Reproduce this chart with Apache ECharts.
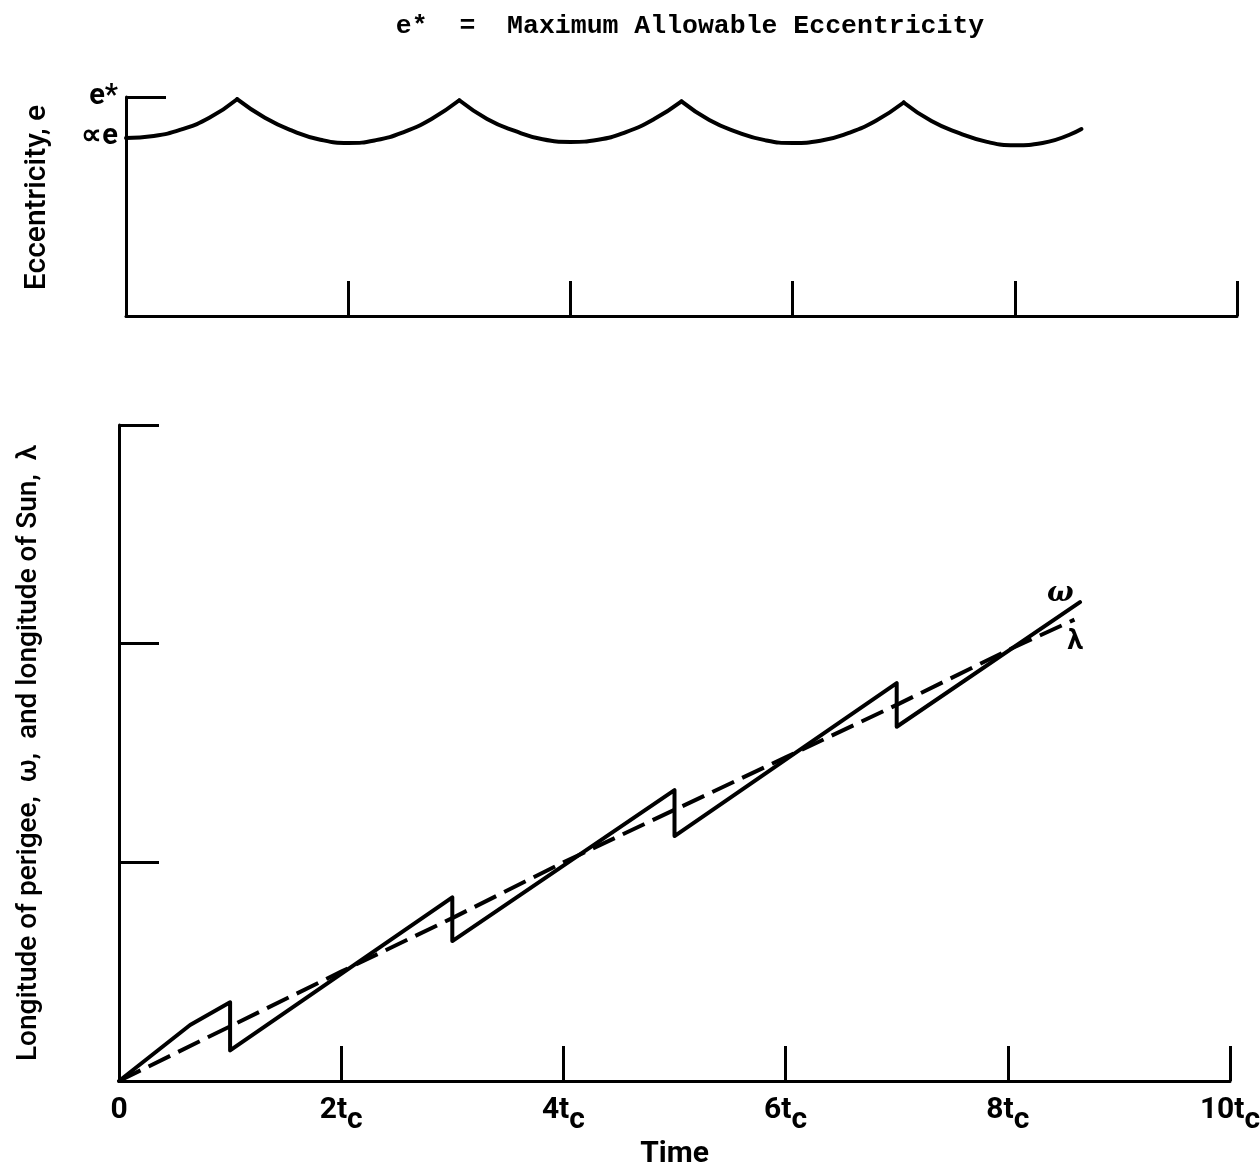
<!DOCTYPE html>
<html>
<head>
<meta charset="utf-8">
<script src="https://cdn.jsdelivr.net/npm/echarts@6/dist/echarts.min.js"></script>
<style>
html,body{margin:0;padding:0;background:#fff;}
#c{width:1260px;height:1168px;}
</style>
</head>
<body>
<div id="c"></div>
<script>
// ---- data (time in units of t_c) ----
const xTicks = [0, 2, 4, 6, 8, 10];
const xTickLabels = ['0{s|\u200b}', '2t{s|c}', '4t{s|c}', '6t{s|c}', '8t{s|c}', '10t{s|c}'];

// eccentricity (fraction of e*), read arc by arc between cusps
const eccArc0 = [[0,0.813],[0.25,0.822],[0.5,0.852],[0.75,0.905],[1,0.99]];
const eccArc1 = [[1,0.99],[1.25,0.905],[1.5,0.845],[1.75,0.805],[2,0.79],[2.25,0.803],[2.5,0.84],[2.75,0.9],[3,0.985]];
const eccArc2 = [[3,0.985],[3.25,0.9],[3.5,0.845],[3.75,0.807],[4,0.795],[4.25,0.805],[4.5,0.84],[4.75,0.898],[5,0.98]];
const eccArc3 = [[5,0.98],[5.25,0.895],[5.5,0.84],[5.75,0.803],[6,0.79],[6.25,0.8],[6.5,0.835],[6.75,0.892],[7,0.975]];
const eccArc4 = [[7,0.975],[7.25,0.89],[7.5,0.835],[7.75,0.795],[8,0.78],[8.25,0.79],[8.6,0.854]];
const eccLabelValues = [0.817, 1];
const eccLabelTexts = ['∝e', 'e*'];

// longitude of perigee (omega) and longitude of sun (lambda)
const omega = [[0,0],[0.64,0.256],[1,0.36],[1,0.14],[3,0.84],[3,0.64],[5,1.33],[5,1.12],[7,1.82],[7,1.62],[8.65,2.19]];
const lambda = [[0,0],[1,0.25],[2,0.5],[3,0.745],[4,1.0],[5,1.24],[6,1.48],[7,1.72],[8,1.97],[8.6,2.11]];

const FONT = "Roboto, 'Liberation Sans Narrow', sans-serif";
const K = '#000';

const chart = echarts.init(document.getElementById('c'), null, {renderer: 'canvas'});

function xAxisCfg(gridIndex, showLabels) {
  return {
    type: 'value', gridIndex: gridIndex, min: 0, max: 10, interval: 2,
    splitLine: {show: false},
    axisLine: {show: true, lineStyle: {color: K, width: 3}},
    axisTick: {show: true, inside: true, length: 35, lineStyle: {color: K, width: 3}},
    axisLabel: showLabels ? {
      show: true, margin: 4, color: K, fontFamily: FONT, fontWeight: 'bold', fontSize: 30,
      formatter: function (v) { const i = xTicks.indexOf(v); return i >= 0 ? xTickLabels[i] : ''; },
      rich: {
        s: {fontFamily: FONT, fontWeight: 'bold', fontSize: 30, color: K, padding: [20, 0, 0, 0]}
      }
    } : {show: false},
    name: showLabels ? 'Time' : '',
    nameLocation: 'middle', nameGap: 42,
    nameTextStyle: {color: K, fontFamily: FONT, fontSize: 30, fontWeight: 'bold'}
  };
}

function lineSeries(data, xi, yi, opts) {
  return Object.assign({
    type: 'line', xAxisIndex: xi, yAxisIndex: yi, data: data,
    showSymbol: false, symbol: 'none', silent: true, animation: false,
    lineStyle: {color: K, width: 4, cap: 'round', join: 'round'}
  }, opts || {});
}

const option = {
  backgroundColor: '#fff',
  animation: false,
  title: {
    text: 'e*  =  Maximum Allowable Eccentricity',
    left: 685, top: 8, textAlign: 'center',
    textStyle: {fontFamily: "'Liberation Mono', 'Courier New', monospace", fontSize: 26.5, fontWeight: 'bold', color: K}
  },
  grid: [
    {left: 126, right: 23, top: 97, height: 219, outerBoundsMode: 'none', containLabel: false},
    {left: 119, right: 30, top: 425, bottom: 87, outerBoundsMode: 'none', containLabel: false}
  ],
  xAxis: [xAxisCfg(0, false), xAxisCfg(1, true)],
  yAxis: [
    {
      type: 'value', gridIndex: 0, min: 0, max: 1,
      splitLine: {show: false},
      axisLine: {show: true, lineStyle: {color: K, width: 3}},
      axisTick: {show: true, inside: true, length: 40, customValues: [1], lineStyle: {color: K, width: 3}},
      axisLabel: {
        show: true, customValues: eccLabelValues, margin: 8, color: K,
        fontFamily: FONT, fontWeight: 'bold', fontSize: 29,
        formatter: function (v) { const i = eccLabelValues.indexOf(v); return i >= 0 ? eccLabelTexts[i] : ''; }
      },
      name: 'Eccentricity, e', nameLocation: 'middle', nameRotate: 90, nameGap: 74,
      nameTextStyle: {color: K, fontFamily: FONT, fontSize: 30, fontWeight: 500, padding: [0, 0, 0, 18]}
    },
    {
      type: 'value', gridIndex: 1, min: 0, max: 3, interval: 1,
      splitLine: {show: false},
      axisLine: {show: true, lineStyle: {color: K, width: 3}},
      axisTick: {show: true, inside: true, length: 40, lineStyle: {color: K, width: 3}},
      axisLabel: {show: false},
      name: 'Longitude of perigee,  ω,  and longitude of Sun,  λ', nameLocation: 'middle', nameRotate: 90, nameGap: 76,
      nameTextStyle: {color: K, fontFamily: FONT, fontSize: 28, fontWeight: 500}
    }
  ],
  series: [
    lineSeries(eccArc0, 0, 0, {smooth: 0.5}),
    lineSeries(eccArc1, 0, 0, {smooth: 0.5}),
    lineSeries(eccArc2, 0, 0, {smooth: 0.5}),
    lineSeries(eccArc3, 0, 0, {smooth: 0.5}),
    lineSeries(eccArc4, 0, 0, {smooth: 0.5}),
    lineSeries(omega, 1, 1, {
      endLabel: {show: true, formatter: 'ω', offset: [-41, -8], color: K,
        fontFamily: "'DejaVu Serif', serif", fontStyle: 'italic', fontWeight: 'bold', fontSize: 28}
    }),
    lineSeries(lambda, 1, 1, {
      lineStyle: {color: K, width: 4, type: [24, 9], cap: 'butt'},
      endLabel: {show: true, formatter: 'λ', offset: [-15, 22], color: K,
        fontFamily: FONT, fontWeight: 'bold', fontSize: 28}
    })
  ]
};
chart.setOption(option);
</script>
</body>
</html>
